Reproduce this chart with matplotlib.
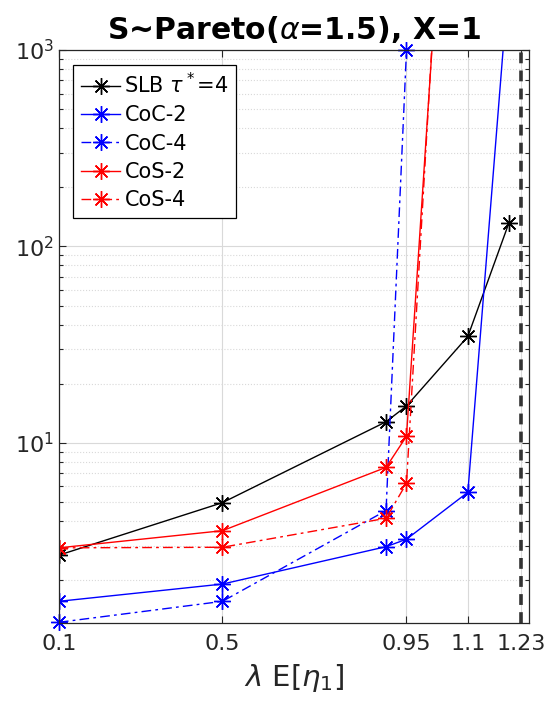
import matplotlib
matplotlib.use("Agg")

import matplotlib.pyplot as plt
from matplotlib.ticker import LogLocator, NullFormatter


# 数据
x_all = [0.1, 0.5, 0.9, 0.95, 1.1, 1.2]
slb = [2.68, 4.96, 12.8, 15.4, 34.8, 131]
coc2 = [1.56, 1.91, 2.96, 3.23, 5.6, 2300]
coc4 = [1.22, 1.56, 4.52, 1000]
cos2 = [2.92, 3.57, 7.5, 10.8, 6e5]
cos4 = [2.92, 2.94, 4.13, 6.22, 1.5e6]

x_coc4 = x_all[:4]
x_cos = x_all[:5]

xticks = [0.1, 0.5, 0.95, 1.1, 1.23]
xtick_labels = ["0.1", "0.5", "0.95", "1.1", "1.23"]
x_limit = 1.23

plt.rcParams["font.family"] = ["DejaVu Sans"]
plt.rcParams["mathtext.fontset"] = "dejavusans"

fig = plt.figure(figsize=(5.45, 7.03), dpi=100)
ax = fig.add_axes([0.108, 0.1138, 0.863, 0.8151])

star = (8, 2, 0)
ms = 12
dashdot = (0, (7, 3, 2, 3))

ax.plot(x_all, slb, color="black", lw=1, marker=star, ms=ms,
        label=r"SLB $\tau^*$=4")
ax.plot(x_all, coc2, color="blue", lw=1, marker=star, ms=ms, label="CoC-2")
ax.plot(x_coc4, coc4, color="blue", lw=1, ls=dashdot, marker=star, ms=ms,
        label="CoC-4", clip_on=False)
ax.plot(x_cos, cos2, color="red", lw=1, marker=star, ms=ms, label="CoS-2")
ax.plot(x_cos, cos4, color="red", lw=1, ls=dashdot, marker=star, ms=ms,
        label="CoS-4")

# 稳定性边界
ax.axvline(x_limit, color="#333333", lw=2.6, ls=(0, (3, 2)), zorder=1)

ax.set_yscale("log")
ax.set_xlim(0.1, 1.25)
ax.set_ylim(1.21, 1000)

ax.set_xticks(xticks)
ax.set_xticklabels(xtick_labels)
ax.yaxis.set_major_locator(LogLocator(base=10))
ax.yaxis.set_minor_locator(LogLocator(base=10, subs=range(2, 10)))
ax.yaxis.set_minor_formatter(NullFormatter())

ax.tick_params(which="both", direction="in", top=True, right=True,
               colors="#262626", labelsize=16)
ax.tick_params(which="major", length=5, width=0.8)
ax.tick_params(which="minor", length=3, width=0.8)
ax.tick_params(axis="x", pad=8)

ax.grid(True, which="major", color="#d9d9d9", lw=0.8)
ax.grid(True, which="minor", axis="y", color="#d9d9d9", lw=0.8, ls=":")
ax.set_axisbelow(True)
for s in ax.spines.values():
    s.set_color("#262626")
    s.set_linewidth(0.9)

ax.set_title(r"S~Pareto($\alpha$=1.5), X=1", fontsize=21.5, fontweight="bold",
             pad=8)
ax.set_xlabel(r"$\lambda$ E[$\eta_1$]", fontsize=21, color="#262626",
              labelpad=6)

leg = ax.legend(loc="upper left", fontsize=15, frameon=True, fancybox=False,
                edgecolor="black", framealpha=1, handlelength=1.9,
                handletextpad=0.2, borderpad=0.35, labelspacing=0.4,
                borderaxespad=0.7)
leg.get_frame().set_linewidth(0.9)

plt.savefig("out.png", dpi=100)
plt.close()
